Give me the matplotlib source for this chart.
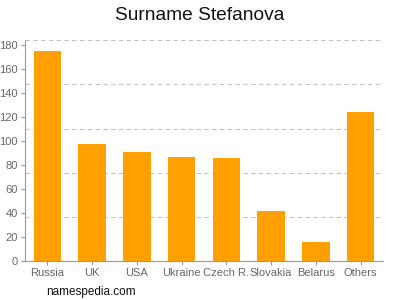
import matplotlib
matplotlib.use("Agg")
import matplotlib.pyplot as plt
import numpy as np

categories = ["Russia", "UK", "USA", "Ukraine", "Czech R.", "Slovakia", "Belarus", "Others"]
values = [175, 98, 91, 87, 86, 42, 16, 124]
yticks = [0, 20, 40, 60, 80, 100, 120, 140, 160, 180]

plt.rcParams['font.family'] = ['Liberation Sans', 'DejaVu Sans']

fig = plt.figure(figsize=(4, 3), dpi=100)
ax = fig.add_axes([0.0625, 0.13, 0.895, 0.7357])

ymax = 184.2
x = np.arange(len(categories))
ax.bar(x, values, width=0.62, color="#ffa000", zorder=2)
ax.set_xlim(-0.5, len(categories) - 0.5)
ax.set_ylim(0, ymax)

for g in np.linspace(0, ymax, 6)[1:]:
    ax.axhline(g, color="#c4c4c4", linestyle=(0, (4, 3)), linewidth=0.8, zorder=1)

ax.set_xticks(x)
ax.set_xticklabels(categories)
ax.set_yticks(yticks)
for s in ["top", "right"]:
    ax.spines[s].set_visible(False)
for s in ["left", "bottom"]:
    ax.spines[s].set_color("#999999")
    ax.spines[s].set_linewidth(0.8)
ax.tick_params(axis="both", colors="#999999", labelcolor="#666666", labelsize=8, length=3, width=0.8, pad=2)

fig.text(0.5, 0.95, "Surname Stefanova", ha="center", va="center", fontsize=13.8, color="#111111")
fig.text(0.115, 0.028, "namespedia.com", ha="left", va="center", fontsize=8.5, color="#111111")

fig.savefig("out.png", dpi=100)
